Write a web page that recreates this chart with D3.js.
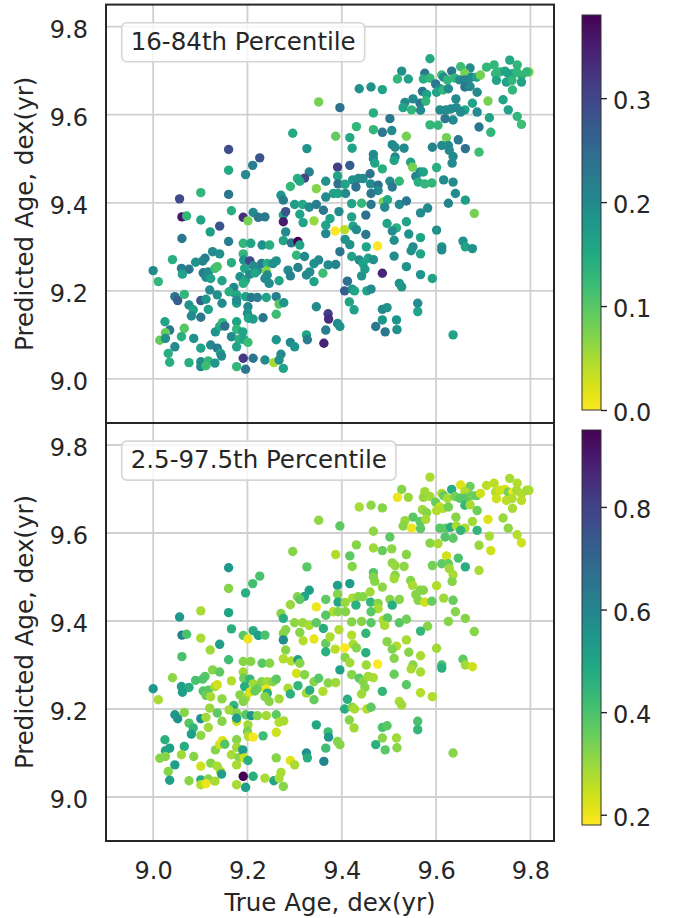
<!DOCTYPE html>
<html>
<head>
<meta charset="utf-8">
<script src="https://cdn.jsdelivr.net/npm/d3@7"></script>
<style>
  html, body { margin: 0; padding: 0; background: #ffffff; }
  svg { display: block; }
</style>
</head>
<body>
<svg id="chart" width="681" height="918"></svg>
<script>
// True and predicted ages (dex yr) of the sample, plus the width of the
// predicted-age interval at two percentile ranges.
const trueAge = [
  9.351,9.396,9.296,9.387,9.326,9.160,9.226,9.211,9.391,9.160,
  9.196,9.331,9.321,9.306,9.311,9.366,9.391,9.392,9.346,9.291,
  9.101,9.056,9.160,9.271,9.276,9.382,9.392,9.366,9.300,9.317,
  9.331,9.346,
  9.587,9.527,9.518,9.541,9.576,9.573,9.587,9.612,9.633,9.652,
  9.672,9.661,9.707,9.723,9.756,9.772,9.797,9.616,9.624,9.640,
  9.650,9.661,9.675,9.686,9.694,9.726,9.735,9.746,9.753,9.763,
  9.771,9.781,9.792,9.728,9.749,9.761,9.781,9.599,9.608,9.601,
  9.615,9.626,9.665,9.661,9.672,9.762,9.437,9.462,9.486,9.571,
  9.580,9.687,9.551,9.534,9.530,9.548,9.566,9.578,9.567,9.642,
  9.677,9.710,9.742,9.608,9.621,9.631,9.643,9.661,9.652,9.687,
  9.636,9.619,9.713,9.753,9.772,9.781,9.502,9.467,9.587,9.604,
  9.691,9.716,9.431,9.467,9.486,9.506,9.537,9.417,9.422,9.507,
  9.513,9.532,9.592,9.612,9.622,9.626,9.647,9.662,9.691,9.628,
  9.636,9.467,9.467,9.470,9.486,9.513,9.511,9.546,9.550,9.557,
  9.566,9.573,9.562,9.576,9.591,9.601,9.616,9.636,9.634,9.641,
  9.662,9.417,9.423,9.435,9.445,9.460,9.430,9.407,9.408,9.461,
  9.477,9.477,9.462,9.502,9.507,9.522,9.421,9.442,9.462,9.488,
  9.497,9.491,9.522,9.537,9.582,9.626,
  9.061,9.071,9.101,9.166,9.141,9.121,9.191,9.201,9.212,9.223,
  9.237,9.276,9.276,9.281,9.281,9.311,9.318,9.341,9.361,9.366,
  9.375,9.386,9.394,9.366,9.061,9.041,9.160,9.191,9.207,9.231,
  9.247,9.276,9.293,9.307,9.311,9.304,9.321,9.126,9.141,9.110,
  9.105,9.090,9.060,9.076,9.062,9.000,9.011,9.106,9.117,9.131,
  9.136,9.112,9.122,9.146,9.166,9.191,9.192,9.205,9.194,9.212,
  9.221,9.230,9.242,9.240,9.242,9.237,9.254,9.261,9.184,9.196,
  9.191,9.205,9.216,9.246,9.267,9.286,9.307,9.291,9.325,9.332,
  9.341,9.341,9.351,9.360,9.371,9.387,9.396,9.120,9.136,9.171,
  9.170,9.161,9.177,9.046,9.052,9.066,9.101,9.112,9.076,9.085,
  9.081,9.101,9.117,9.146,9.177,9.177,9.196,9.208,9.221,9.240,
  9.261,9.267,9.277,9.201,9.200,9.202,9.212,9.233,9.261,9.346,
  9.371,9.372,9.366,9.391,9.396,9.025,9.035,9.026,9.014,9.026,
  9.066,9.060,9.046,9.086,9.101,9.122,9.136,9.132,9.141,9.147,
  9.152,9.177,9.177,9.166,9.182,9.190,9.193,9.201,9.177,9.143,
  9.145,9.032,9.035,9.076,9.101,9.101,9.117,9.131,9.191,9.212,
  9.196,9.237,9.256,9.267,9.271,9.261,9.291,9.300,9.325,9.327,
  9.362,9.276,9.177,9.112,
  9.681,9.406,9.421,9.424,9.431,9.451,9.496,9.516,9.507,9.537,
  9.567,9.451,9.476,9.407,9.417,9.452,9.421,9.511,9.542,9.567,
  9.601,9.551,9.547,9.567,9.511,9.537,9.437,9.445,9.456,9.467,
  9.449,9.442,9.486,9.567,9.592,9.522,9.527,9.412,9.406,9.422,
  9.427,9.453,9.462,9.612,9.612,9.657,9.662,9.677,9.416,9.426,
  9.486,9.496,9.561,9.561,9.486,9.516,9.472,9.492,9.517,9.636
];

const predictedAge = [
  9.629,9.616,9.558,9.551,9.523,9.521,9.502,9.485,9.481,9.474,
  9.464,9.470,9.456,9.455,9.449,9.449,9.461,9.443,9.432,9.437,
  9.423,9.409,9.419,9.417,9.406,9.421,9.421,9.413,9.396,9.396,
  9.390,9.396,
  9.727,9.699,9.681,9.681,9.694,9.681,9.683,9.690,9.699,9.709,
  9.706,9.694,9.708,9.713,9.724,9.713,9.697,9.685,9.679,9.683,
  9.679,9.679,9.685,9.685,9.690,9.693,9.697,9.699,9.693,9.693,
  9.697,9.689,9.697,9.678,9.674,9.678,9.674,9.670,9.659,9.651,
  9.656,9.659,9.670,9.663,9.664,9.656,9.659,9.663,9.657,9.653,
  9.646,9.651,9.636,9.628,9.616,9.611,9.626,9.631,9.610,9.636,
  9.626,9.631,9.634,9.611,9.611,9.613,9.616,9.611,9.606,9.606,
  9.588,9.591,9.593,9.611,9.596,9.578,9.591,9.604,9.577,9.576,
  9.572,9.560,9.573,9.566,9.560,9.564,9.551,9.548,9.524,9.532,
  9.526,9.524,9.526,9.530,9.548,9.530,9.543,9.523,9.515,9.519,
  9.505,9.510,9.500,9.490,9.477,9.504,9.496,9.492,9.481,9.460,
  9.470,9.470,9.447,9.443,9.445,9.480,9.452,9.447,9.490,9.421,
  9.406,9.485,9.452,9.455,9.455,9.466,9.436,9.442,9.421,9.443,
  9.440,9.428,9.421,9.449,9.436,9.449,9.398,9.399,9.396,9.402,
  9.407,9.390,9.396,9.404,9.388,9.399,
  9.368,9.370,9.361,9.382,9.347,9.334,9.367,9.359,9.378,9.367,
  9.368,9.372,9.357,9.380,9.334,9.374,9.355,9.359,9.383,9.349,
  9.364,9.336,9.380,9.330,9.319,9.271,9.312,9.308,9.308,9.304,
  9.304,9.314,9.309,9.312,9.304,9.281,9.278,9.289,9.284,9.274,
  9.268,9.265,9.251,9.249,9.238,9.246,9.221,9.241,9.243,9.251,
  9.255,9.231,9.228,9.223,9.264,9.284,9.270,9.268,9.251,9.257,
  9.246,9.262,9.262,9.245,9.236,9.228,9.262,9.268,9.232,9.225,
  9.217,9.238,9.241,9.217,9.223,9.247,9.253,9.234,9.236,9.243,
  9.221,9.262,9.270,9.240,9.259,9.260,9.289,9.202,9.191,9.208,
  9.197,9.198,9.191,9.187,9.178,9.192,9.178,9.181,9.168,9.157,
  9.143,9.140,9.158,9.172,9.172,9.179,9.187,9.185,9.185,9.185,
  9.187,9.170,9.173,9.164,9.149,9.138,9.136,9.139,9.147,9.164,
  9.148,9.136,9.111,9.126,9.119,9.130,9.111,9.105,9.088,9.092,
  9.115,9.096,9.073,9.092,9.070,9.077,9.070,9.107,9.119,9.128,
  9.120,9.130,9.113,9.096,9.090,9.107,9.089,9.083,9.073,9.058,
  9.052,9.058,9.038,9.037,9.039,9.028,9.041,9.036,9.047,9.047,
  9.022,9.043,9.037,9.043,9.056,9.089,9.083,9.073,9.100,9.089,
  9.081,9.024,9.028,9.030,
  9.376,9.339,9.368,9.347,9.339,9.372,9.353,9.343,9.336,9.357,
  9.377,9.328,9.302,9.317,9.305,9.300,9.278,9.315,9.329,9.321,
  9.338,9.300,9.291,9.284,9.279,9.255,9.270,9.262,9.274,9.271,
  9.249,9.234,9.240,9.237,9.228,9.217,9.209,9.222,9.200,9.204,
  9.200,9.200,9.204,9.300,9.293,9.313,9.300,9.296,9.175,9.157,
  9.158,9.162,9.172,9.153,9.134,9.134,9.119,9.107,9.112,9.100
];

// Width of the 16-84th percentile interval
const spread68 = [
  .08,.24,.15,.09,.19,.29,.28,.22,.31,.15,
  .20,.21,.30,.14,.15,.19,.16,.24,.07,.13,
  .13,.29,.23,.18,.22,.16,.16,.20,.17,.15,
  .20,.22,
  .15,.19,.13,.16,.23,.14,.13,.12,.23,.12,
  .20,.08,.13,.13,.15,.13,.08,.20,.13,.13,
  .20,.21,.20,.16,.08,.13,.13,.16,.16,.16,
  .13,.13,.13,.16,.16,.13,.16,.23,.20,.16,
  .13,.20,.20,.23,.20,.13,.19,.19,.16,.23,
  .16,.20,.20,.20,.16,.13,.23,.13,.20,.20,
  .16,.08,.16,.20,.20,.20,.20,.16,.20,.20,
  .20,.23,.16,.16,.13,.12,.23,.14,.13,.13,
  .23,.13,.13,.13,.23,.20,.08,.15,.16,.20,
  .20,.20,.21,.20,.08,.20,.23,.24,.12,.20,
  .20,.20,.20,.16,.14,.21,.16,.16,.08,.21,
  .20,.16,.14,.13,.13,.14,.20,.20,.20,.20,
  .17,.27,.19,.20,.20,.24,.24,.16,.20,.20,
  .24,.20,.23,.20,.23,.13,.16,.13,.23,.08,
  .15,.20,.20,.23,.20,.21,
  .36,.13,.16,.14,.28,.17,.33,.08,.20,.23,
  .23,.16,.35,.28,.20,.16,.16,.06,.23,.16,
  .16,.00,.20,.20,.23,.14,.22,.13,.16,.19,
  .14,.16,.23,.38,.16,.13,.20,.20,.19,.22,
  .21,.19,.22,.23,.16,.20,.13,.22,.20,.12,
  .11,.20,.16,.16,.14,.13,.19,.30,.16,.20,
  .20,.22,.14,.07,.20,.20,.19,.19,.19,.16,
  .14,.20,.16,.20,.16,.20,.21,.21,.20,.20,
  .16,.19,.20,.12,.20,.21,.23,.20,.19,.20,
  .22,.14,.15,.23,.27,.13,.27,.18,.19,.16,
  .20,.23,.16,.20,.16,.20,.16,.23,.22,.16,
  .22,.10,.18,.20,.19,.16,.17,.23,.12,.20,
  .31,.33,.22,.20,.19,.16,.23,.09,.09,.19,
  .10,.14,.20,.19,.16,.20,.22,.19,.15,.13,
  .24,.16,.13,.20,.14,.16,.16,.12,.16,.16,
  .20,.14,.14,.14,.20,.20,.13,.18,.32,.23,
  .23,.20,.05,.19,.20,.18,.20,.18,.16,.22,
  .34,.16,.13,.12,
  .08,.04,.16,.16,.20,.24,.16,.14,.20,.16,
  .20,.23,.00,.19,.19,.16,.16,.19,.19,.16,
  .19,.20,.19,.16,.20,.19,.20,.16,.16,.19,
  .17,.18,.34,.18,.16,.19,.18,.24,.27,.19,
  .16,.16,.20,.19,.20,.19,.16,.19,.16,.16,
  .20,.19,.20,.16,.18,.18,.23,.23,.19,.16
];

// Width of the 2.5-97.5th percentile interval
const spread95 = [
  .31,.37,.32,.27,.38,.54,.40,.41,.52,.32,
  .46,.52,.50,.32,.37,.37,.32,.49,.20,.30,
  .28,.54,.50,.32,.47,.27,.32,.38,.31,.30,
  .28,.37,
  .28,.32,.20,.30,.29,.30,.29,.27,.47,.22,
  .35,.27,.26,.26,.28,.27,.28,.36,.28,.34,
  .38,.38,.35,.36,.24,.27,.24,.23,.34,.20,
  .28,.27,.28,.24,.26,.27,.26,.36,.24,.27,
  .27,.34,.37,.44,.28,.28,.28,.31,.32,.30,
  .32,.35,.38,.30,.32,.20,.37,.28,.37,.32,
  .29,.22,.30,.38,.37,.47,.28,.28,.44,.44,
  .37,.39,.28,.31,.27,.24,.37,.31,.32,.28,
  .30,.24,.32,.29,.36,.31,.32,.37,.32,.31,
  .30,.31,.34,.37,.24,.36,.40,.47,.28,.29,
  .28,.39,.33,.32,.31,.32,.29,.32,.28,.32,
  .32,.32,.32,.24,.36,.27,.29,.36,.32,.32,
  .32,.52,.28,.32,.32,.29,.46,.30,.32,.44,
  .32,.28,.38,.32,.47,.32,.32,.32,.38,.28,
  .37,.28,.38,.35,.32,.32,
  .62,.40,.28,.46,.52,.29,.38,.20,.47,.52,
  .40,.32,.58,.32,.32,.32,.27,.21,.47,.36,
  .28,.26,.27,.46,.40,.31,.42,.32,.32,.38,
  .32,.27,.27,.52,.32,.23,.32,.32,.37,.38,
  .39,.40,.52,.47,.52,.54,.28,.39,.38,.28,
  .24,.36,.28,.31,.27,.29,.35,.44,.47,.29,
  .36,.32,.29,.20,.47,.32,.32,.37,.32,.28,
  .32,.22,.36,.32,.29,.28,.44,.46,.29,.47,
  .36,.32,.38,.27,.32,.29,.50,.30,.37,.44,
  .52,.29,.32,.54,.56,.32,.57,.29,.38,.44,
  .52,.31,.29,.32,.24,.52,.38,.54,.32,.29,
  .37,.27,.28,.29,.34,.27,.19,.42,.24,.49,
  .42,.54,.42,.32,.32,.46,.52,.50,.32,.32,
  .47,.29,.52,.32,.24,.32,.28,.32,.24,.22,
  .39,.32,.29,.28,.32,.52,.24,.46,.28,.28,
  .52,.32,.52,.32,.47,.27,.32,.28,.95,.46,
  .52,.28,.50,.28,.28,.32,.22,.28,.57,.47,
  .60,.32,.28,.20,
  .32,.18,.27,.28,.32,.44,.32,.27,.33,.28,
  .44,.46,.18,.32,.29,.29,.32,.32,.32,.28,
  .29,.32,.28,.28,.36,.38,.38,.32,.29,.28,
  .32,.29,.44,.27,.27,.28,.29,.46,.47,.32,
  .28,.27,.37,.40,.46,.37,.29,.24,.32,.29,
  .40,.38,.40,.44,.32,.29,.46,.38,.32,.32
];

const ageTicks = [9.0, 9.2, 9.4, 9.6, 9.8];
const panelLabels = ["16-84th Percentile", "2.5-97.5th Percentile"];
const spreadTicks68 = [0.0, 0.1, 0.2, 0.3];
const spreadTicks95 = [0.2, 0.4, 0.6, 0.8];
const xTitle = "True Age, dex(yr)";
const yTitle = "Predicted Age, dex(yr)";

const svg = d3.select("#chart");
const FONT = "'DejaVu Sans', sans-serif";
const INK = "#262626";
const GRID = "#d0d0d0";
const fmt = d3.format(".1f");

const x = d3.scaleLinear().domain([8.9, 9.85]).range([106, 554]);
const [xl, xr] = x.range();

const panels = [
  { top: 4.6, bottom: 423, spread: spread68, ticks: spreadTicks68,
    cbTop: 15, cbBottom: 410, label: panelLabels[0] },
  { top: 423, bottom: 841, spread: spread95, ticks: spreadTicks95,
    cbTop: 430, cbBottom: 825, label: panelLabels[1] }
];

const defs = svg.append("defs");
const points = d3.range(trueAge.length);

panels.forEach((p, i) => {
  const y = d3.scaleLinear().domain([8.9, 9.85]).range([p.bottom, p.top]);
  const ext = d3.extent(p.spread);
  const color = d3.scaleSequential(t => d3.interpolateViridis(1 - t)).domain(ext);

  const clipId = "clip" + i;
  defs.append("clipPath").attr("id", clipId)
    .append("rect").attr("x", xl).attr("y", p.top)
    .attr("width", xr - xl).attr("height", p.bottom - p.top);

  const g = svg.append("g");

  // grid
  g.append("g").selectAll("line.v").data(ageTicks).join("line")
    .attr("x1", d => x(d)).attr("x2", d => x(d))
    .attr("y1", p.top).attr("y2", p.bottom)
    .attr("stroke", GRID).attr("stroke-width", 1.8);
  g.append("g").selectAll("line.h").data(ageTicks).join("line")
    .attr("x1", xl).attr("x2", xr)
    .attr("y1", d => y(d)).attr("y2", d => y(d))
    .attr("stroke", GRID).attr("stroke-width", 1.8);

  // scatter
  g.append("g").attr("clip-path", `url(#${clipId})`)
    .selectAll("circle").data(points).join("circle")
    .attr("cx", k => x(trueAge[k]))
    .attr("cy", k => y(predictedAge[k]))
    .attr("r", 4.7)
    .attr("fill", k => color(p.spread[k]));

  // panel label box
  const lg = g.append("g");
  const box = lg.append("rect")
    .attr("x", 121.7).attr("y", p.top + 18.1)
    .attr("height", 39).attr("rx", 5).attr("ry", 5)
    .attr("fill", "#ffffff").attr("fill-opacity", 0.8)
    .attr("stroke", "#d6d6d6").attr("stroke-width", 1.6);
  const txt = lg.append("text")
    .attr("x", 130.7).attr("y", p.top + 45.4)
    .attr("font-family", FONT).attr("font-size", 24.5)
    .attr("fill", INK).text(p.label);
  box.attr("width", txt.node().getComputedTextLength() + 18);

  // frame
  g.append("rect")
    .attr("x", xl).attr("y", p.top)
    .attr("width", xr - xl).attr("height", p.bottom - p.top)
    .attr("fill", "none").attr("stroke", INK).attr("stroke-width", 2);

  // y tick labels
  const yAxis = g.append("g").attr("transform", `translate(${xl},0)`)
    .call(d3.axisLeft(y).tickValues(ageTicks).tickSize(0).tickPadding(18).tickFormat(fmt));
  yAxis.select(".domain").remove();
  yAxis.selectAll("text")
    .attr("font-family", FONT).attr("font-size", 24)
    .attr("fill", INK).attr("dy", "0.44em");

  // y title
  svg.append("text")
    .attr("transform", `translate(33,${(p.top + p.bottom) / 2}) rotate(-90)`)
    .attr("text-anchor", "middle")
    .attr("font-family", FONT).attr("font-size", 24.5)
    .attr("fill", INK).text(yTitle);

  // colour bar
  const gradId = "grad" + i;
  const grad = defs.append("linearGradient").attr("id", gradId)
    .attr("x1", 0).attr("y1", 1).attr("x2", 0).attr("y2", 0);
  d3.range(0, 1.0001, 0.02).forEach(o => {
    grad.append("stop").attr("offset", o)
      .attr("stop-color", d3.interpolateViridis(1 - o));
  });
  const cbX = 582, cbW = 19;
  const cb = d3.scaleLinear().domain(ext).range([p.cbBottom, p.cbTop]);
  svg.append("rect")
    .attr("x", cbX).attr("y", p.cbTop)
    .attr("width", cbW).attr("height", p.cbBottom - p.cbTop)
    .attr("fill", `url(#${gradId})`)
    .attr("stroke", "#333333").attr("stroke-width", 1);
  const cAxis = svg.append("g").attr("transform", `translate(${cbX + cbW},0)`)
    .call(d3.axisRight(cb).tickValues(p.ticks).tickSize(6).tickPadding(6).tickFormat(fmt));
  cAxis.select(".domain").remove();
  cAxis.selectAll("line").attr("stroke", INK).attr("stroke-width", 1.4);
  cAxis.selectAll("text")
    .attr("font-family", FONT).attr("font-size", 24)
    .attr("fill", INK).attr("dy", "0.44em");

  // x tick labels only under the lower panel
  if (i === panels.length - 1) {
    const xAxis = svg.append("g").attr("transform", `translate(0,${p.bottom})`)
      .call(d3.axisBottom(x).tickValues(ageTicks).tickSize(0).tickPadding(20.5).tickFormat(fmt));
    xAxis.select(".domain").remove();
    xAxis.selectAll("text")
      .attr("font-family", FONT).attr("font-size", 24).attr("fill", INK);
    svg.append("text")
      .attr("x", (xl + xr) / 2).attr("y", 911)
      .attr("text-anchor", "middle")
      .attr("font-family", FONT).attr("font-size", 24.5)
      .attr("fill", INK).text(xTitle);
  }
});
</script>
</body>
</html>
